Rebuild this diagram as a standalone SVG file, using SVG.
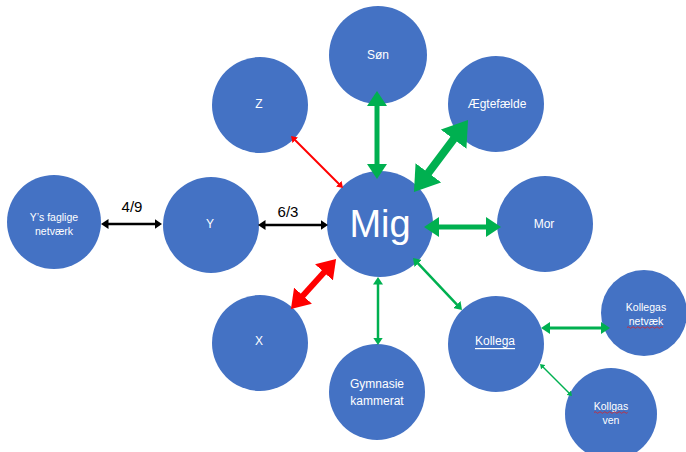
<svg xmlns="http://www.w3.org/2000/svg" width="686" height="452" viewBox="0 0 686 452">
<style>
  .node circle { fill: #4472C4; }
  .t { fill: #FFFFFF; font-family: "Liberation Sans", "Open Sans", Arial, sans-serif; text-anchor: middle; dominant-baseline: central; }
  .s { font-size: 12px; }
  .xs { font-size: 10.5px; }
  .lbl { fill: #000000; font-family: "Liberation Sans", Arial, sans-serif; font-size: 15px; text-anchor: middle; }
  .g { stroke: #00B050; fill: none; marker-start: url(#ag); marker-end: url(#ag); }
  .r { stroke: #FF0000; fill: none; marker-start: url(#ar); marker-end: url(#ar); }
  .k { stroke: #000000; fill: none; marker-start: url(#ak); marker-end: url(#ak); }
  .sq { stroke: #E02020; stroke-width: 0.8; fill: none; }
</style>
<defs>
  <marker id="ag" viewBox="0 0 3 4" refX="0.2" refY="2" markerWidth="3" markerHeight="4" markerUnits="strokeWidth" orient="auto-start-reverse"><path d="M0,0 L3,2 L0,4 Z" fill="#00B050"/></marker>
  <marker id="ar" viewBox="0 0 3 4" refX="0.2" refY="2" markerWidth="3" markerHeight="4" markerUnits="strokeWidth" orient="auto-start-reverse"><path d="M0,0 L3,2 L0,4 Z" fill="#FF0000"/></marker>
  <marker id="ak" viewBox="0 0 3 4" refX="0.2" refY="2" markerWidth="3" markerHeight="4" markerUnits="strokeWidth" orient="auto-start-reverse"><path d="M0,0 L3,2 L0,4 Z" fill="#000000"/></marker>
</defs>

<g id="mig" class="node"><circle cx="380" cy="224" r="53"/><text class="t" x="380" y="224" font-size="38">Mig</text></g>
<g id="son" class="node"><circle cx="378" cy="55" r="49"/><text class="t s" x="378" y="55">Søn</text></g>
<g id="aegtefaelde" class="node"><circle cx="496" cy="104" r="48"/><text class="t s" x="497" y="104">Ægtefælde</text></g>
<g id="z" class="node"><circle cx="260" cy="105" r="48"/><text class="t s" x="259" y="104">Z</text></g>
<g id="mor" class="node"><circle cx="545" cy="224" r="48"/><text class="t s" x="544" y="224">Mor</text></g>
<g id="y" class="node"><circle cx="211" cy="225" r="48"/><text class="t s" x="210" y="224">Y</text></g>
<g id="ys-netvaerk" class="node"><circle cx="54" cy="222" r="47"/><text class="t xs" x="54" y="217">Y’s faglige</text><text class="t xs" x="54" y="231">netværk</text></g>
<g id="x" class="node"><circle cx="260" cy="343" r="48"/><text class="t s" x="259" y="341">X</text></g>
<g id="gymnasie" class="node"><circle cx="377" cy="392" r="48"/><text class="t s" x="377" y="384">Gymnasie</text><text class="t s" x="377" y="401">kammerat</text></g>
<g id="kollega" class="node"><circle cx="496" cy="344" r="48"/><text class="t s" x="495" y="341" text-decoration="underline">Kollega</text></g>
<g id="kollegas-netvaek" class="node"><circle cx="644" cy="313" r="43"/><text class="t xs" x="646" y="307">Kollegas</text><text class="t xs" x="646" y="321">netvæk</text><path class="sq" d="M627,327.5 q1.2,-1.5 2.4,0 t2.4,0 t2.4,0 t2.4,0 t2.4,0 t2.4,0 t2.4,0 t2.4,0 t2.4,0 t2.4,0 t2.4,0 t2.4,0 t2.4,0 t2.4,0 t2.4,0"/></g>
<g id="kollegas-ven" class="node"><circle cx="611" cy="414" r="46"/><text class="t xs" x="611" y="406">Kollgas</text><text class="t xs" x="611" y="420">ven</text><path class="sq" d="M594,412.5 q1.2,-1.5 2.4,0 t2.4,0 t2.4,0 t2.4,0 t2.4,0 t2.4,0 t2.4,0 t2.4,0 t2.4,0 t2.4,0 t2.4,0 t2.4,0 t2.4,0 t2.4,0"/></g>

<g id="connectors">
  <line class="k" x1="108" y1="224" x2="155" y2="224" stroke-width="2.5"/>
  <line class="k" x1="265" y1="225" x2="321" y2="225" stroke-width="2.5"/>
  <line class="r" x1="295" y1="140" x2="339" y2="184" stroke-width="2"/>
  <line class="r" x1="302.2" y1="296.5" x2="324.8" y2="271.5" stroke-width="6"/>
  <line class="g" x1="377" y1="105" x2="377" y2="165" stroke-width="5"/>
  <line class="g" x1="454.6" y1="137.9" x2="427.4" y2="174.1" stroke-width="8"/>
  <line class="g" x1="438" y1="227" x2="487" y2="227" stroke-width="5"/>
  <line class="g" x1="378" y1="284" x2="378" y2="338" stroke-width="2.5"/>
  <line class="g" x1="417.8" y1="263.1" x2="457.2" y2="304.9" stroke-width="2.5"/>
  <line class="g" x1="549.4" y1="328" x2="601.6" y2="328" stroke-width="3"/>
  <line class="g" x1="543" y1="367" x2="569" y2="393" stroke-width="1.5"/>
  <text class="lbl" x="132" y="212">4/9</text>
  <text class="lbl" x="288" y="217">6/3</text>
</g>
</svg>
